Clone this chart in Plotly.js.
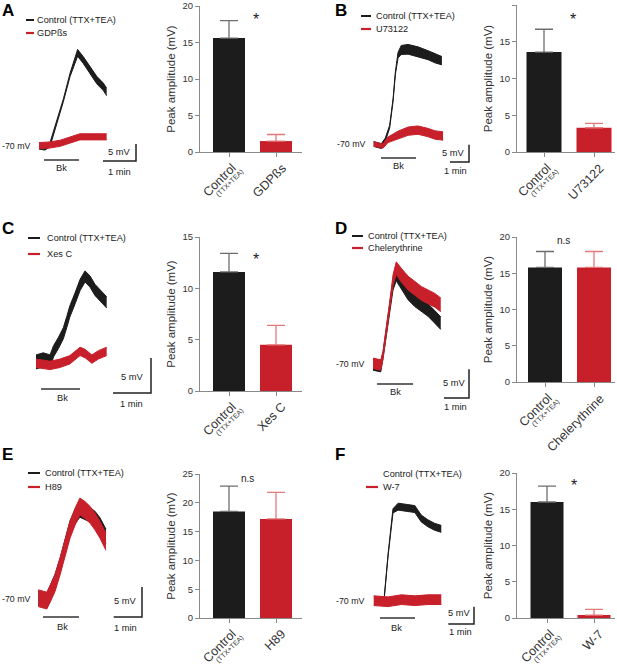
<!DOCTYPE html>
<html>
<head>
<meta charset="utf-8">
<script src="https://cdn.plot.ly/plotly-3.0.1.min.js"></script>
<style>
  body { margin: 0; background: #fff; }
  #plot { width: 617px; height: 665px; }
</style>
</head>
<body>
<div id="plot"></div>
<script>
// Bar chart values (peak amplitude, mV)
let panelIds = ["A", "B", "C", "D", "E", "F"];
let drugNames = ["GDPßs", "U73122", "Xes C", "Chelerythrine", "H89", "W-7"];
let controlMean = [15.6, 13.6, 11.6, 15.8, 18.5, 16.0];
let controlSem = [2.4, 3.1, 1.8, 2.2, 4.4, 2.2];
let drugMean = [1.5, 3.3, 4.5, 15.8, 17.2, 0.4];
let drugSem = [0.9, 0.6, 1.9, 2.2, 4.6, 0.8];
let significance = ["*", "*", "*", "n.s", "n.s", "*"];
let yAxisMax = [20, 20, 15, 20, 25, 20];

// Example recordings: time (min), depolarisation from -70 mV (mV), noise half-width (mV)
let aCtrlT = [0, 0.18, 0.33, 0.54, 0.74, 0.94, 1.09, 1.17, 1.34, 1.55, 1.75, 1.95, 2.05];
let aCtrlV = [0, -0.3, 0.3, 6.8, 13.5, 20.9, 25.3, 27.4, 25.3, 22.4, 19.4, 17.4, 15.9];
let aCtrlN = [0.9, 0.9, 0.6, 0.4, 0.4, 0.5, 0.8, 1.0, 1.0, 1.1, 1.1, 1.1, 1.1];
let aDrugT = [0, 0.33, 0.64, 0.94, 1.24, 1.55, 1.85, 2.05];
let aDrugV = [0.1, 0.3, 0.8, 1.8, 2.7, 2.7, 2.7, 2.7];
let aDrugN = [0.9, 0.9, 0.9, 0.9, 0.9, 0.9, 0.9, 0.9];

let bCtrlT = [0, 0.4, 0.61, 0.84, 1.02, 1.14, 1.28, 1.45, 1.81, 2.33, 2.86, 3.22, 3.59];
let bCtrlV = [0, -0.6, 1.2, 5.0, 12.7, 20.4, 25.6, 27.1, 27.3, 26.6, 25.6, 24.7, 24.0];
let bCtrlN = [0.7, 0.7, 0.5, 0.4, 0.4, 0.4, 0.8, 1.3, 1.4, 1.4, 1.3, 1.3, 1.2];
let bDrugT = [0, 0.49, 0.75, 1.28, 1.81, 2.33, 2.86, 3.22, 3.65];
let bDrugV = [0, -0.6, 1.2, 2.6, 3.7, 4.0, 3.3, 2.6, 2.3];
let bDrugN = [0.6, 0.6, 0.8, 1.1, 1.2, 1.2, 1.2, 1.2, 1.2];

let cCtrlT = [0, 0.19, 0.37, 0.46, 0.59, 0.72, 0.81, 0.89, 1.03, 1.16, 1.29, 1.42, 1.55, 1.68, 1.86];
let cCtrlV = [0.2, 0.5, 0.2, 1.7, 2.9, 4.3, 5.9, 7.4, 9.3, 11.2, 12.4, 11.7, 10.5, 9.8, 8.7];
let cCtrlN = [1.0, 1.0, 1.0, 0.8, 0.8, 0.8, 0.8, 0.8, 0.8, 0.8, 0.8, 0.8, 0.8, 0.8, 0.8];
let cDrugT = [0, 0.37, 0.63, 0.89, 1.16, 1.29, 1.47, 1.64, 1.86];
let cDrugV = [0, -0.3, 0, 0.5, 1.7, 1.4, 0.6, 1.2, 1.7];
let cDrugN = [0.6, 0.6, 0.6, 0.6, 0.6, 0.6, 0.6, 0.6, 0.6];

let dCtrlT = [0, 0.31, 0.4, 0.53, 0.67, 0.8, 0.93, 1.13, 1.4, 1.67, 1.93, 2.2, 2.47, 2.71];
let dCtrlV = [0, -0.3, 1.7, 5.8, 10.2, 14.0, 15.7, 14.3, 12.5, 11.3, 10.5, 9.6, 8.4, 7.3];
let dCtrlN = [0.9, 0.9, 0.6, 0.5, 0.6, 0.9, 1.0, 1.0, 1.1, 1.1, 1.1, 1.1, 1.1, 1.1];
let dDrugT = [0, 0.31, 0.4, 0.53, 0.67, 0.8, 0.93, 1.13, 1.4, 1.67, 1.93, 2.2, 2.47, 2.71];
let dDrugV = [0.3, 0, 1.7, 5.8, 10.5, 14.8, 16.9, 15.7, 14.3, 13.4, 12.5, 11.9, 11.3, 10.5];
let dDrugN = [0.9, 0.9, 0.6, 0.5, 0.6, 0.9, 1.1, 1.2, 1.2, 1.2, 1.2, 1.2, 1.2, 1.2];

let eCtrlT = [0, 0.3, 0.41, 0.59, 0.77, 0.94, 1.12, 1.3, 1.47, 1.65, 1.83, 2.0, 2.18, 2.39];
let eCtrlV = [0.3, -0.1, 1.1, 3.1, 5.8, 8.9, 12.0, 13.9, 15.0, 14.6, 14.2, 13.6, 12.5, 10.6];
let eCtrlN = [1.2, 1.2, 1.2, 1.2, 1.2, 1.2, 1.2, 1.2, 1.2, 1.2, 1.2, 1.2, 1.2, 1.2];
let eDrugT = [0, 0.3, 0.41, 0.59, 0.77, 0.94, 1.12, 1.3, 1.47, 1.65, 1.83, 2.0, 2.18, 2.39];
let eDrugV = [0.3, -0.1, 0.95, 2.8, 5.6, 8.6, 11.7, 13.9, 15.6, 15.0, 14.2, 13.1, 11.7, 9.7];
let eDrugN = [1.4, 1.4, 1.4, 1.4, 1.4, 1.4, 1.4, 1.4, 1.4, 1.4, 1.4, 1.4, 1.4, 1.4];

let fCtrlT = [0.4, 0.56, 0.75, 0.95, 1.33, 1.6, 1.85, 2.11, 2.37, 2.63];
let fCtrlV = [0, 13.2, 25.9, 27.1, 26.7, 26.4, 23.7, 22.3, 21.3, 20.7];
let fCtrlN = [0.3, 0.3, 0.6, 1.0, 1.0, 1.0, 1.0, 1.0, 1.0, 1.0];
let fDrugT = [0, 0.56, 1.08, 1.6, 2.11, 2.63];
let fDrugV = [0, -0.3, 0.3, 0, 0.3, 0.3];
let fDrugN = [1.4, 1.4, 1.4, 1.4, 1.4, 1.4];

let recordings = [
    [[aCtrlT, aCtrlV, aCtrlN], [aDrugT, aDrugV, aDrugN]],
    [[bCtrlT, bCtrlV, bCtrlN], [bDrugT, bDrugV, bDrugN]],
    [[cCtrlT, cCtrlV, cCtrlN], [cDrugT, cDrugV, cDrugN]],
    [[dCtrlT, dCtrlV, dCtrlN], [dDrugT, dDrugV, dDrugN]],
    [[eCtrlT, eCtrlV, eCtrlN], [eDrugT, eDrugV, eDrugN]],
    [[fCtrlT, fCtrlV, fCtrlN], [fDrugT, fDrugV, fDrugN]]
];

// Placement on the page (pixels)
let traceBox = [[30, 150, 40, 180], [365, 480, 40, 180], [30, 160, 255, 410], [365, 480, 250, 410], [30, 150, 490, 640], [365, 480, 490, 640]];
let traceOrigin = [[39, 146], [373.7, 144], [36, 363.3], [373, 365], [38.3, 600], [373.7, 600.7]];
let pxPerMin = [33, 19, 38, 25, 28.3, 25.7];
let pxPerMv = [3.4, 3.47, 7, 5.73, 6, 3.47];
let scaleCorner = [[136, 161], [469, 162], [151, 393], [469, 398], [142, 617], [474, 624]];
let bkBar = [[44, 79, 160], [381, 416, 158], [41, 80, 389], [377, 413, 384], [43, 79, 617], [380, 415, 618]];
let barBox = [[200, 302, 6, 152], [517, 615, 5, 152], [200, 302, 237, 391], [517, 615, 237, 382], [200, 302, 474, 618], [517, 615, 473, 618]];
let barCenters = [[229, 276, 32], [544, 594, 35], [229, 276, 32], [545, 594, 34], [229, 276, 32], [547, 594, 33]];
let letterPos = [[1, 11], [334, 11], [1, 228], [334, 228], [1, 454], [334, 454]];
let legendPos = [[26, 34, 36, 20, 33], [361, 371, 375, 16, 29], [28, 40, 46, 238, 254], [352, 363, 367, 236, 248], [28, 40, 44, 473, 487], [366, 378, 382, 474, 487]];
let restPos = [[31, 146], [366, 144], null, [365, 364], [31, 599], [365, 601]];
let fiveMvPos = [[119, 152], [453, 153], [132, 377], [454, 383], [125, 601], [459, 613]];
let oneMinPos = [[119, 172], [455, 171], [131, 404], [455, 407], [125, 628], [460, 632]];
let bkTextPos = [[61, 168], [398, 166], [62, 398], [395, 392], [62, 627], [396, 628]];
let sigPos = [[256, 19], [573, 19], [256, 259], [563, 240], [247, 478], [574, 485]];

const W = 617, H = 665;
const px = x => x / W;
const py = y => 1 - y / H;
const suffix = n => (n === 1 ? "" : String(n));

const BLACK = "#1c1c1c";
const RED = "#c8202a";
const FONT = "Liberation Sans, Arial, sans-serif";

let data = [];
let layout = {
    width: W,
    height: H,
    margin: {l: 0, r: 0, t: 0, b: 0},
    paper_bgcolor: "#ffffff",
    plot_bgcolor: "rgba(0,0,0,0)",
    showlegend: false,
    font: {family: FONT, color: "#222"},
    shapes: [],
    annotations: []
};

function note(x, y, text, size, opts) {
    layout.annotations.push(Object.assign({
        xref: "paper", yref: "paper", x: px(x), y: py(y), text: text,
        showarrow: false, xanchor: "center", yanchor: "middle", borderpad: 0,
        font: {family: FONT, size: size, color: "#222"}
    }, opts || {}));
}

function line(x0, y0, x1, y1, color, width) {
    layout.shapes.push({
        type: "line", xref: "paper", yref: "paper",
        x0: px(x0), y0: py(y0), x1: px(x1), y1: py(y1),
        line: {color: color, width: width}
    });
}

// rotated category label under a bar, its upper right corner shifted from the tick
function tickLabel(m, xv, text, size, dx, dy) {
    layout.annotations.push({
        xref: "x" + m, yref: "y" + m, x: xv, y: 0, xshift: dx, yshift: -dy,
        text: text, textangle: -45, xanchor: "right", yanchor: "top",
        showarrow: false, borderpad: 0,
        font: {family: FONT, size: size, color: "#333"}
    });
}

for (let i = 0; i < 6; i++) {
    // ---- recording panel ----
    let n = i + 1;
    let [bx0, bx1, by0, by1] = traceBox[i];
    let [ox, oy] = traceOrigin[i];
    layout["xaxis" + suffix(n)] = {
        domain: [px(bx0), px(bx1)],
        range: [(bx0 - ox) / pxPerMin[i], (bx1 - ox) / pxPerMin[i]],
        visible: false, anchor: "y" + suffix(n), fixedrange: true
    };
    layout["yaxis" + suffix(n)] = {
        domain: [py(by1), py(by0)],
        range: [(oy - by1) / pxPerMv[i], (oy - by0) / pxPerMv[i]],
        visible: false, anchor: "x" + suffix(n), fixedrange: true
    };
    [BLACK, RED].forEach((color, k) => {
        let [t, v, noise] = recordings[i][k];
        let lo = v.map((val, j) => val - noise[j]);
        let hi = v.map((val, j) => val + noise[j]);
        data.push({x: t, y: lo, type: "scatter", mode: "lines", xaxis: "x" + suffix(n), yaxis: "y" + suffix(n),
            line: {color: color, width: 1}, hoverinfo: "skip"});
        data.push({x: t, y: hi, type: "scatter", mode: "lines", xaxis: "x" + suffix(n), yaxis: "y" + suffix(n),
            line: {color: color, width: 1}, fill: "tonexty", fillcolor: color, hoverinfo: "skip"});
    });

    // scale bar: 1 min and 5 mV
    let ct = (scaleCorner[i][0] - ox) / pxPerMin[i];
    let cv = (oy - scaleCorner[i][1]) / pxPerMv[i];
    layout.shapes.push({
        type: "path", xref: "x" + suffix(n), yref: "y" + suffix(n),
        path: `M ${ct - 1},${cv} L ${ct},${cv} L ${ct},${cv + 5}`,
        line: {color: "#222", width: 1.5}
    });
    note(fiveMvPos[i][0], fiveMvPos[i][1], "5 mV", 9.3);
    note(oneMinPos[i][0], oneMinPos[i][1], "1 min", 9.3);

    // bradykinin application
    line(bkBar[i][0], bkBar[i][2], bkBar[i][1], bkBar[i][2], "#333", 1.5);
    note(bkTextPos[i][0], bkTextPos[i][1], "Bk", 9.3);
    if (restPos[i]) {
        note(restPos[i][0], restPos[i][1], "-70 mV", 8.8, {xanchor: "right"});
    }

    // panel letter and legend
    note(letterPos[i][0], letterPos[i][1], "<b>" + panelIds[i] + "</b>", 17, {xanchor: "left", font: {family: FONT, size: 17, color: "#000"}});
    let [lx0, lx1, tx, yb, yr] = legendPos[i];
    if (i !== 5) line(lx0, yb, lx1, yb, BLACK, 2);
    line(lx0, yr, lx1, yr, RED, 2.2);
    note(tx, yb, "Control (TTX+TEA)", 9.2, {xanchor: "left"});
    note(tx, yr, drugNames[i], 9.2, {xanchor: "left"});

    // ---- bar panel ----
    let m = i + 7;
    let [ax0, ax1, ay0, ay1] = barBox[i];
    let [c0, c1, bw] = barCenters[i];
    let unit = c1 - c0;
    layout["xaxis" + m] = {
        domain: [px(ax0), px(ax1)],
        range: [(ax0 - c0) / unit, (ax1 - c0) / unit],
        anchor: "y" + m, fixedrange: true,
        showline: true, linecolor: "#8a8a8a", linewidth: 1,
        ticks: "outside", ticklen: 4, tickcolor: "#8a8a8a",
        tickvals: [0, 1], showticklabels: false,
        showgrid: false, zeroline: false
    };
    layout["yaxis" + m] = {
        domain: [py(ay1), py(ay0)],
        range: [0, yAxisMax[i]],
        anchor: "x" + m, fixedrange: true,
        showline: true, linecolor: "#8a8a8a", linewidth: 1,
        ticks: "outside", ticklen: 4, tickcolor: "#8a8a8a",
        dtick: 5, tickfont: {family: FONT, size: 9.5, color: "#333"},
        showgrid: false, zeroline: false,
        title: {text: "Peak amplitude (mV)", font: {family: FONT, size: 11.5, color: "#333"}, standoff: 4}
    };
    data.push({
        x: [0], y: [controlMean[i]], type: "bar", width: bw / unit,
        xaxis: "x" + m, yaxis: "y" + m,
        marker: {color: BLACK},
        error_y: {type: "data", array: [controlSem[i]], arrayminus: [0], symmetric: false,
            color: "#6e6e6e", thickness: 1.3, width: 9}
    });
    data.push({
        x: [1], y: [drugMean[i]], type: "bar", width: bw / unit,
        xaxis: "x" + m, yaxis: "y" + m,
        marker: {color: RED},
        error_y: {type: "data", array: [drugSem[i]], arrayminus: [0], symmetric: false,
            color: "#e27a7a", thickness: 1.3, width: 9}
    });
    tickLabel(m, 0, "Control", 12.5, 11, 7);
    tickLabel(m, 0, "(TTX+TEA)", 7, 18, 14);
    tickLabel(m, 1, drugNames[i], 12.5, 14, 8);

    let isStar = significance[i] === "*";
    note(sigPos[i][0], sigPos[i][1], significance[i], isStar ? 16 : 10);
}

Plotly.newPlot("plot", data, layout, {staticPlot: true});
</script>
</body>
</html>
